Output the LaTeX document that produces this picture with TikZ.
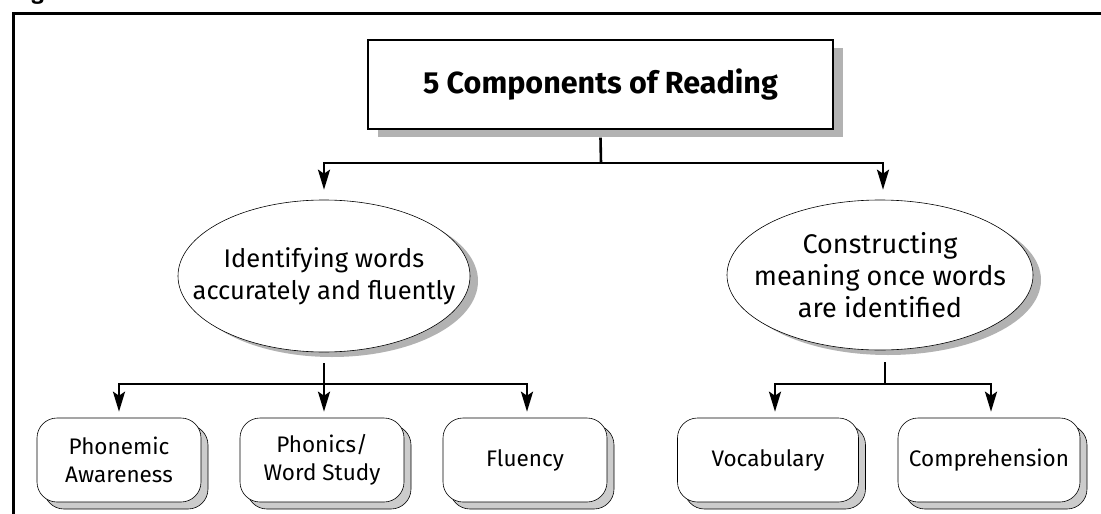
\documentclass[tikz,border=0pt]{standalone}
\usepackage{fontspec}
\setmainfont{Fira Sans}
\usetikzlibrary{arrows.meta,shapes.geometric,shadows}
\definecolor{shadeA}{gray}{0.70}
\definecolor{shadeB}{gray}{0.80}
\begin{document}
\begin{tikzpicture}[x=1pt,y=-1pt,
  conn/.style={line width=2.6pt},
  arr/.style={conn,-{Stealth[length=20pt,width=12pt,inset=4pt]}},
  titlebox/.style={draw,line width=1.3pt,fill=white,minimum width=465pt,minimum height=89pt,
    font=\bfseries\fontsize{30.5}{36}\selectfont,
    drop shadow={fill=shadeA,opacity=1,shadow xshift=10pt,shadow yshift=-8pt}},
  oval/.style={ellipse,draw,line width=0.6pt,fill=white,align=center,inner sep=-90pt,
    drop shadow={fill=shadeA,opacity=1,shadow xshift=8pt,shadow yshift=-5pt}},
  leaf/.style={draw,line width=0.6pt,fill=white,rounded corners=20pt,align=center,
    minimum height=84pt,inner sep=0pt,font=\fontsize{22.5}{28}\selectfont,
    drop shadow={draw=black,line width=0.6pt,fill=shadeB,opacity=1,shadow xshift=7pt,shadow yshift=-7pt}},
]
\useasboundingbox (0,0) rectangle (1101,514);
\clip (0,0) rectangle (1101,514);
\node[font=\bfseries\fontsize{22}{26}\selectfont,anchor=base west,inner sep=0pt] (fig) at (15,-0.5) {Figure};
\draw[line width=3pt] (1101,13) -- (13,13) -- (13,514);

\node[titlebox] (title) at (600.5,84.5) {5 Components of Reading};

\node[oval,minimum width=292pt,minimum height=152pt,font=\fontsize{25.5}{32}\selectfont] (left) at (324,276) {Identifying words\\accurately and fluently};
\node[oval,minimum width=306pt,minimum height=150pt,font=\fontsize{27}{32}\selectfont] (right) at (880,275) {Constructing\\meaning once words\\are identified};

\node[leaf,minimum width=164pt] (pa) at (119,460) {Phonemic\\Awareness};
\node[leaf,minimum width=164pt] (ph) at (322,460) {Phonics/\\Word Study};
\node[leaf,minimum width=164pt] (fl) at (525,460) {Fluency};
\node[leaf,minimum width=181pt] (vo) at (768,460) {Vocabulary};
\node[leaf,minimum width=182pt] (co) at (989,460) {Comprehension};

% top level
\coordinate (tj) at (601,163);
\draw[conn] ([yshift=-8pt]title.south) -- (tj);
\draw[arr] (tj) -| ([yshift=10pt]left.north);
\draw[arr] (tj) -| ([xshift=3pt,yshift=10pt]right.north);

% left group
\coordinate (lj) at (324,384);
\draw[conn] ([yshift=-11pt]left.south) -- (lj);
\draw[arr] (lj) -| ([yshift=6pt]pa.north);
\draw[arr] (lj) -- ([yshift=6pt]ph.north -| lj);
\draw[arr] (lj) -| ([xshift=2pt,yshift=6pt]fl.north);

% right group
\coordinate (rj) at (885,384);
\draw[conn] ([yshift=-12pt]right.south -| rj) -- (rj);
\draw[arr] (rj) -| ([xshift=7pt,yshift=6pt]vo.north);
\draw[arr] (rj) -| ([xshift=2pt,yshift=6pt]co.north);
\end{tikzpicture}
\end{document}
